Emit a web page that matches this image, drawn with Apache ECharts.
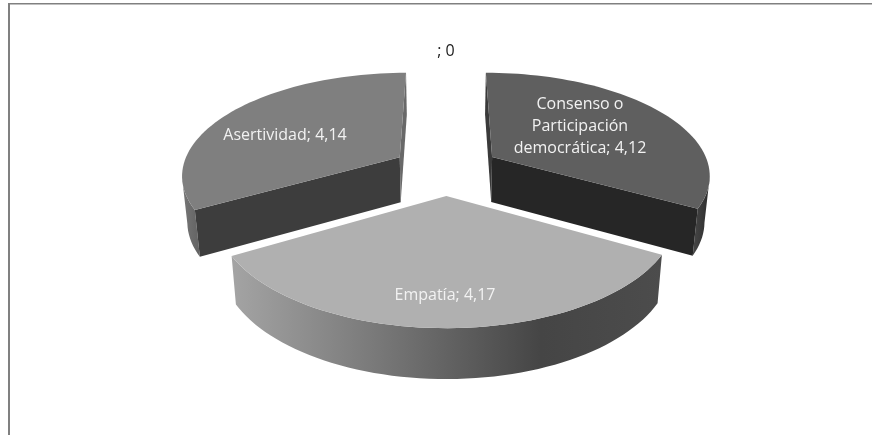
<!DOCTYPE html>
<html>
<head>
<meta charset="utf-8">
<title>Pie 3D</title>
<style>
  html, body { margin: 0; padding: 0; background: #fff; }
  #chart { width: 872px; height: 435px; }
</style>
</head>
<body>
<div id="chart"></div>
<script src="https://cdn.jsdelivr.net/npm/echarts@6/dist/echarts.min.js"></script>
<script>
// Data
const names = ['Consenso o\nParticipación\ndemocrática', 'Empatía', 'Asertividad', '']
const values = [4.12, 4.17, 4.14, 0]

// Styles per slice
const topColors = ['#5f5f5f', '#b0b0b0', '#7f7f7f', '#fff']
const faceColors = ['#262626', '#808080', '#3d3d3d', '#fff']
const sliverColors = ['#3a3a3a', '#808080', '#696969', '#fff']
const wallStops = [
  [[0, '#474747'], [1, '#2c2c2c']],
  [[0, '#a4a4a4'], [0.35, '#777777'], [0.72, '#454545'], [1, '#4c4c4c']],
  [[0, '#777777'], [1, '#626262']],
  [[0, '#fff'], [1, '#fff']]
]
const labelPos = [[580, 126], [445, 295], [285, 135], [446, 51]]
const drawOrder = [0, 2, 3, 1]

// Projection of the tilted disc
const cx = 446
const cy = 169.6
const scaleX = 218
const scaleY = 101.5
const persp = 0.16
const depth = 45.5
const explode = 0.25
const base = 0.98
const viewV = 1 / persp

function project(u, v, low) {
  const w = 1 - persp * v
  const x = scaleX * u / w
  const y = cy + scaleY * v / w
  if (!low) return [cx + x, y]
  return [cx + x * base, y + depth / Math.sqrt(w)]
}

const total = values.reduce((a, b) => a + b, 0)

function renderSlice(params, api) {
  const i = params.dataIndex
  let start = 0
  for (let k = 0; k < i; k++) start += values[k] / total * Math.PI * 2
  const end = start + api.value(1) / total * Math.PI * 2
  const mid = (start + end) / 2
  const text = (names[i] + '; ' + api.value(1)).replace('.', ',')
  const label = {
    type: 'text',
    z2: 10 + i,
    style: {
      text: text,
      x: labelPos[i][0],
      y: labelPos[i][1],
      align: 'center',
      verticalAlign: 'middle',
      fill: values[i] > 0 ? '#f2f2f2' : '#1a1a1a',
      font: '16px "Open Sans"',
      lineHeight: 22
    }
  }
  if (values[i] === 0) return { type: 'group', children: [label] }

  // exploded centre, angle measured clockwise from the back of the disc
  const c0 = Math.sin(mid) * explode
  const c1 = -Math.cos(mid) * explode
  const rim = []
  for (let a = 0; a <= 60; a++) {
    const t = start + (end - start) * a / 60
    rim.push({ t: t, u: c0 + Math.sin(t), v: c1 - Math.cos(t) })
  }
  const up = rim.map(p => project(p.u, p.v, false))
  // only the part of the outer wall turned towards the viewer
  const front = rim.filter(p => Math.sin(p.t) * -p.u - Math.cos(p.t) * (viewV - p.v) > 0)
  const wallUp = front.map(p => project(p.u, p.v, false))
  const wallDown = front.map(p => project(p.u, p.v, true))
  const z = 1 + drawOrder.indexOf(i)
  const children = []

  children.push({
    type: 'polygon',
    z2: z,
    shape: { points: wallUp.concat(wallDown.slice().reverse()) },
    style: {
      fill: new echarts.graphic.LinearGradient(0, 0, 1, 0, wallStops[i].map(s => ({ offset: s[0], color: s[1] })))
    }
  })

  // the two cut faces, only when they turn towards the viewer
  ;[[start, -1], [end, 1]].forEach(e => {
    const t = e[0]
    const nu = Math.cos(t) * e[1]
    const nv = Math.sin(t) * e[1]
    const far = [c0 + Math.sin(t), c1 - Math.cos(t)]
    if (-c0 * nu + (viewV - c1) * nv <= 0) return
    children.push({
      type: 'polygon',
      z2: z,
      shape: {
        points: [
          project(c0, c1, false), project(far[0], far[1], false),
          project(far[0], far[1], true), project(c0, c1, true)
        ]
      },
      style: { fill: Math.cos(t) > 0.5 ? sliverColors[i] : faceColors[i] }
    })
  })

  children.push({
    type: 'polygon',
    z2: z,
    shape: { points: [project(c0, c1, false)].concat(up) },
    style: { fill: topColors[i] }
  })
  children.push(label)
  return { type: 'group', children: children }
}

const chart = echarts.init(document.getElementById('chart'), null, { renderer: 'canvas' })
chart.setOption({
  animation: false,
  backgroundColor: '#fff',
  graphic: [
    { type: 'line', shape: { x1: 8, y1: 3.75, x2: 872, y2: 3.75 }, style: { stroke: '#808080', lineWidth: 1.5 }, silent: true },
    { type: 'line', shape: { x1: 9, y1: 3, x2: 9, y2: 435 }, style: { stroke: '#808080', lineWidth: 2 }, silent: true }
  ],
  series: [{
    type: 'custom',
    coordinateSystem: 'none',
    renderItem: renderSlice,
    data: values.map((v, i) => [i, v])
  }]
})
</script>
</body>
</html>
